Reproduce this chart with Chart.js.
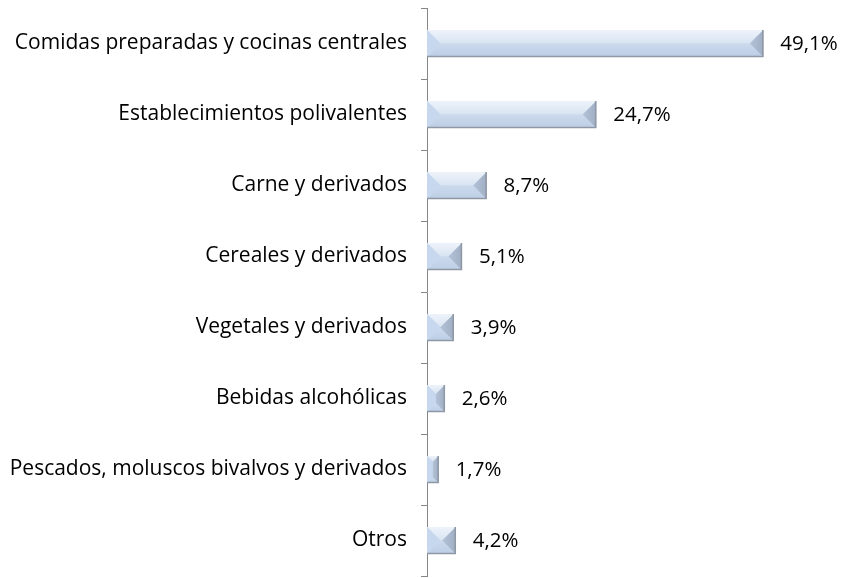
<!DOCTYPE html>
<html>
<head>
<meta charset="utf-8">
<script src="https://cdn.jsdelivr.net/npm/chart.js@4/dist/chart.umd.min.js"></script>
<style>
html,body{margin:0;padding:0;background:#fff;}
#wrap{width:841px;height:578px;position:relative;}
</style>
</head>
<body>
<div id="wrap"><canvas id="c" width="841" height="578"></canvas></div>
<script>
const categories = [
  "Comidas preparadas y cocinas centrales",
  "Establecimientos polivalentes",
  "Carne y derivados",
  "Cereales y derivados",
  "Vegetales y derivados",
  "Bebidas alcohólicas",
  "Pescados, moluscos bivalvos y derivados",
  "Otros"
];
const values = [49.1, 24.7, 8.7, 5.1, 3.9, 2.6, 1.7, 4.2];
const valueLabels = ["49,1%", "24,7%", "8,7%", "5,1%", "3,9%", "2,6%", "1,7%", "4,2%"];

const FONT = "'Open Sans', sans-serif";
const FONT_SIZE = 21;
const VALUE_FONT_SIZE = 20.5;

const bevelPlugin = {
  id: 'bevel',
  afterDatasetsDraw(chart) {
    const ctx = chart.ctx;
    const meta = chart.getDatasetMeta(0);
    meta.data.forEach((el, i) => {
      const p = el.getProps(['x', 'y', 'base', 'height'], true);
      const x0 = Math.min(p.base, p.x), x1 = Math.max(p.base, p.x);
      const y0 = p.y - p.height / 2, y1 = p.y + p.height / 2;
      const w = x1 - x0, h = y1 - y0;
      const d = Math.min(w, h) / 2;
      const ix0 = x0 + d, ix1 = x1 - d, iy0 = y0 + d, iy1 = y1 - d;
      ctx.save();
      const poly = (pts, fill) => {
        ctx.beginPath();
        ctx.moveTo(pts[0][0], pts[0][1]);
        for (let k = 1; k < pts.length; k++) ctx.lineTo(pts[k][0], pts[k][1]);
        ctx.closePath();
        ctx.fillStyle = fill;
        ctx.fill();
      };
      // top facet
      let g = ctx.createLinearGradient(0, y0, 0, iy0);
      g.addColorStop(0, '#eef3fa');
      g.addColorStop(1, '#d8e4f2');
      poly([[x0, y0], [x1, y0], [ix1, iy0], [ix0, iy0]], g);
      // bottom facet
      g = ctx.createLinearGradient(0, iy1, 0, y1);
      g.addColorStop(0, '#ccdaed');
      g.addColorStop(1, '#bccde5');
      poly([[x0, y1], [x1, y1], [ix1, iy1], [ix0, iy1]], g);
      // left facet
      poly([[x0, y0], [ix0, iy0], [ix0, iy1], [x0, y1]], '#c6d7ee');
      // right facet
      g = ctx.createLinearGradient(ix1, 0, x1, 0);
      g.addColorStop(0, '#b3c2d7');
      g.addColorStop(1, '#a0afc4');
      poly([[x1, y0], [ix1, iy0], [ix1, iy1], [x1, y1]], g);
      // shadow edges bottom/right
      ctx.strokeStyle = '#8e98a5';
      ctx.lineWidth = 1.5;
      ctx.beginPath();
      ctx.moveTo(x0, y1 - 0.5);
      ctx.lineTo(x1 - 0.5, y1 - 0.5);
      ctx.lineTo(x1 - 0.5, y0);
      ctx.stroke();
      // value label
      ctx.fillStyle = '#000';
      ctx.font = VALUE_FONT_SIZE + 'px ' + FONT;
      ctx.textAlign = 'left';
      ctx.textBaseline = 'middle';
      ctx.fillText(valueLabels[i], x1 + 17, p.y + 1);
      ctx.restore();
    });
  }
};

new Chart(document.getElementById('c'), {
  type: 'bar',
  data: {
    labels: categories,
    datasets: [{
      data: values,
      backgroundColor: '#cfdcee',
      borderWidth: 0,
      barPercentage: 0.38,
      categoryPercentage: 1
    }]
  },
  options: {
    indexAxis: 'y',
    responsive: false,
    animation: false,
    devicePixelRatio: 1,
    layout: { padding: { top: 8, bottom: 2, left: 0, right: 3 } },
    plugins: { legend: { display: false }, tooltip: { enabled: false } },
    scales: {
      x: { display: false, min: 0, max: 60 },
      y: {
        afterFit(scale) { scale.width = 427; scale.paddingTop = 0; scale.paddingBottom = 0; },
        border: { display: true, color: '#868686', width: 1 },
        grid: { drawOnChartArea: false, drawTicks: true, tickLength: 6, offset: true, color: '#868686' },
        ticks: { color: '#000', padding: 14, font: { family: FONT, size: FONT_SIZE } }
      }
    }
  },
  plugins: [bevelPlugin]
});
</script>
</body>
</html>
